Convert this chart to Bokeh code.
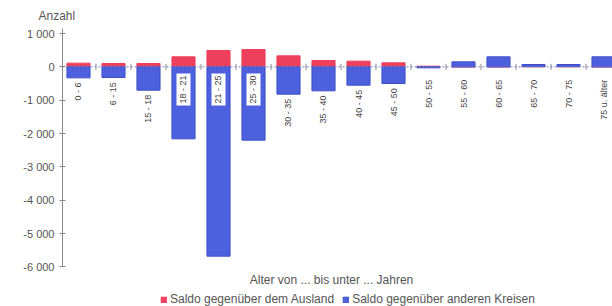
import math
from bokeh.plotting import figure
from bokeh.models import (Range1d, FixedTicker, CustomJSTickFormatter, Span, Legend,
                          LegendItem, Label, Title, ColumnDataSource)
from bokeh.core.properties import value
from bokeh.embed import file_html
from bokeh.resources import INLINE

categories = ["0 - 6", "6 - 15", "15 - 18", "18 - 21", "21 - 25", "25 - 30", "30 - 35",
              "35 - 40", "40 - 45", "45 - 50", "50 - 55", "55 - 60", "60 - 65",
              "65 - 70", "70 - 75", "75 u. älter"]
saldo_ausland = [110, 100, 100, 300, 490, 520, 330, 190, 170, 120, 20, 0, 0, 10, 10, 0]
saldo_andere = [-330, -320, -700, -2160, -5680, -2200, -820, -720, -550, -500, -30,
                150, 300, 60, 60, 300]
y_ticks = [-6000, -5000, -4000, -3000, -2000, -1000, 0, 1000]
series_names = ["Saldo gegenüber dem Ausland", "Saldo gegenüber anderen Kreisen"]
y_title = "Anzahl"
x_title = "Alter von ... bis unter ... Jahren"

RED = "#ee3f5c"
BLUE = "#4d61df"
FONT = "Liberation Sans"
AXIS_MAX = 1150

n = len(categories)
xs = list(range(n))
red_bottom = [0] * n
red_top = saldo_ausland[:]
blue_bottom = []
blue_top = []
for r, b in zip(saldo_ausland, saldo_andere):
    base = max(r, 0) if b >= 0 else min(r, 0)
    blue_bottom.append(base)
    blue_top.append(base + b)

# anchor for the top end of each rotated category label
lab_y = []
for bb_, bt_ in zip(blue_bottom, blue_top):
    low = min(bb_, bt_, 0)
    if low < -1500:
        lab_y.append(-200)
    else:
        lab_y.append(min(low, -250) - 80)

src = ColumnDataSource(dict(x=xs, rb=red_bottom, rt=red_top, bb=blue_bottom, bt=blue_top,
                            ly=lab_y, cat=categories))

p = figure(width=612, height=306, output_backend="svg", toolbar_location=None,
           x_range=Range1d(-0.457, 15.257), y_range=Range1d(-7190, 1330),
           min_border_left=62, min_border_right=0, min_border_top=22, min_border_bottom=0)
p.outline_line_color = None
p.xgrid.visible = False
p.ygrid.visible = False
p.xaxis.visible = False

ax = p.yaxis[0]
ax.ticker = FixedTicker(ticks=y_ticks)
ax.bounds = (-6000, AXIS_MAX)
ax.formatter = CustomJSTickFormatter(code="""
const s = Math.abs(tick).toFixed(0).replace(/\\B(?=(\\d{3})+(?!\\d))/g, ' ');
return (tick < 0 ? '-' : '') + s;
""")
ax.axis_line_color = "#8a8a8a"
ax.major_tick_line_color = "#8a8a8a"
ax.major_tick_in = 3
ax.major_tick_out = 3
ax.minor_tick_line_color = None
ax.major_label_text_font = FONT
ax.major_label_text_font_size = "11px"
ax.major_label_text_color = "#555555"
ax.major_label_standoff = 5

rb = p.vbar(x="x", bottom="rb", top="rt", width=0.66, source=src,
            fill_color=RED, line_color=RED)
bb = p.vbar(x="x", bottom="bb", top="bt", width=0.66, source=src,
            fill_color=BLUE, line_color="#3c4fc4")

p.add_layout(Span(location=0, dimension="width", line_color="#7080c8",
                  line_dash="2 2", line_width=1))
p.scatter(x=[i + 0.5 for i in xs[:-1]], y=[0] * (n - 1), marker="dash", angle=math.pi / 2,
          size=6, line_color="#8a8a8a")

p.text(x="x", y="ly", text="cat", source=src, angle=math.pi / 2,
       text_align="right", text_baseline="middle", text_font=value(FONT),
       text_font_size="9px", text_color="#444444",
       background_fill_color="white", padding=2)

p.add_layout(Title(text=y_title, align="left", offset=-24, text_font=FONT,
                   text_font_size="12px", text_color="#555555", text_font_style="normal",
                   standoff=0), "above")
p.add_layout(Label(x=7.23, y=-6380, text=x_title, text_align="center",
                   text_baseline="middle", text_font=FONT, text_font_size="12px",
                   text_color="#555555"))

legend = Legend(items=[LegendItem(label=series_names[0], renderers=[rb]),
                       LegendItem(label=series_names[1], renderers=[bb])],
                orientation="horizontal", location=(98, 0),
                label_text_font=FONT, label_text_font_size="12px",
                label_text_color="#555555", glyph_width=7, glyph_height=7,
                spacing=8, padding=0, margin=0, border_line_color=None,
                background_fill_alpha=0, label_standoff=3, label_height=12)
p.add_layout(legend)

open("out.html", "w").write(file_html(p, INLINE))
